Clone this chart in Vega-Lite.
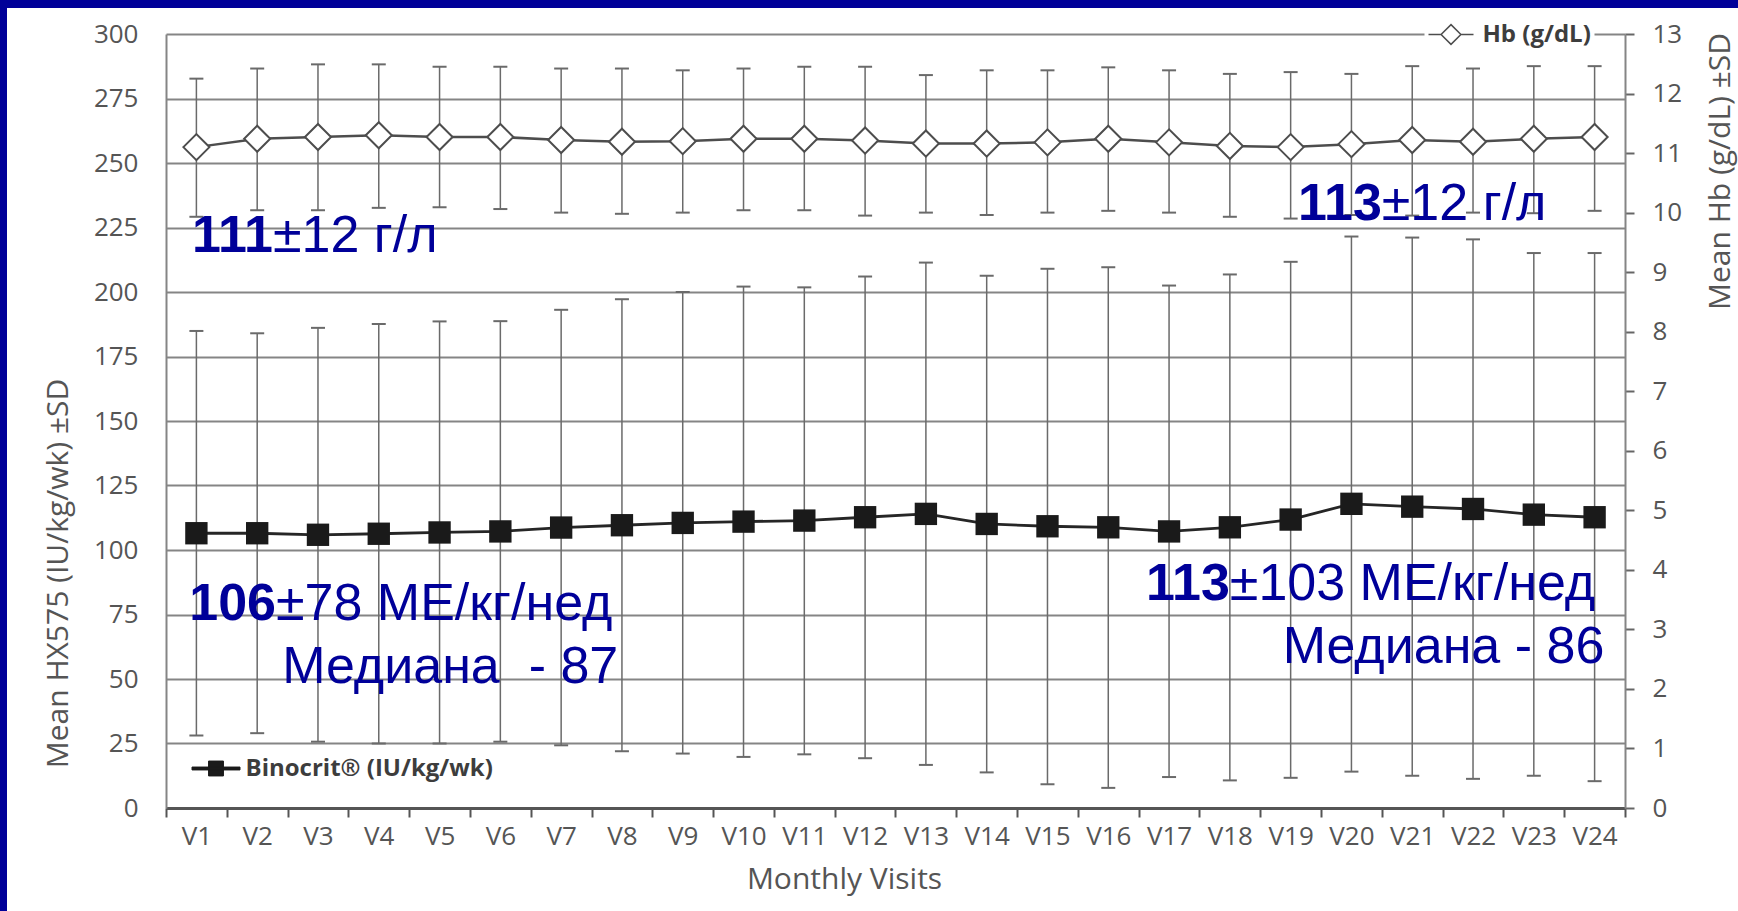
{
  "$schema": "https://vega.github.io/schema/vega-lite/v6.json",
  "width": 1731,
  "height": 903,
  "autosize": {"type": "none"},
  "padding": {"left": 7, "top": 8, "right": 0, "bottom": 0},
  "background": "#000099",
  "config": {
    "view": {"fill": "white", "stroke": null},
    "font": "Open Sans",
    "axis": {"labelFont": "Open Sans", "titleFont": "Open Sans", "labelColor": "#555555", "titleColor": "#555555", "labelFontSize": 26, "titleFontSize": 30, "titleFontWeight": "normal"}
  },
  "datasets": {
    "bino": [
      {"visit": "V1", "mean": 106.5, "lo": 28.1, "hi": 184.9, "series": "Binocrit® (IU/kg/wk)"},
      {"visit": "V2", "mean": 106.5, "lo": 29.0, "hi": 184.0, "series": "Binocrit® (IU/kg/wk)"},
      {"visit": "V3", "mean": 105.9, "lo": 25.7, "hi": 186.1, "series": "Binocrit® (IU/kg/wk)"},
      {"visit": "V4", "mean": 106.3, "lo": 25.0, "hi": 187.6, "series": "Binocrit® (IU/kg/wk)"},
      {"visit": "V5", "mean": 106.8, "lo": 25.0, "hi": 188.6, "series": "Binocrit® (IU/kg/wk)"},
      {"visit": "V6", "mean": 107.2, "lo": 25.7, "hi": 188.7, "series": "Binocrit® (IU/kg/wk)"},
      {"visit": "V7", "mean": 108.7, "lo": 24.3, "hi": 193.1, "series": "Binocrit® (IU/kg/wk)"},
      {"visit": "V8", "mean": 109.6, "lo": 22.0, "hi": 197.2, "series": "Binocrit® (IU/kg/wk)"},
      {"visit": "V9", "mean": 110.5, "lo": 21.1, "hi": 200.0, "series": "Binocrit® (IU/kg/wk)"},
      {"visit": "V10", "mean": 111.0, "lo": 19.8, "hi": 202.1, "series": "Binocrit® (IU/kg/wk)"},
      {"visit": "V11", "mean": 111.4, "lo": 20.8, "hi": 201.8, "series": "Binocrit® (IU/kg/wk)"},
      {"visit": "V12", "mean": 112.7, "lo": 19.3, "hi": 206.0, "series": "Binocrit® (IU/kg/wk)"},
      {"visit": "V13", "mean": 114.0, "lo": 16.7, "hi": 211.4, "series": "Binocrit® (IU/kg/wk)"},
      {"visit": "V14", "mean": 110.1, "lo": 13.8, "hi": 206.3, "series": "Binocrit® (IU/kg/wk)"},
      {"visit": "V15", "mean": 109.2, "lo": 9.2, "hi": 209.0, "series": "Binocrit® (IU/kg/wk)"},
      {"visit": "V16", "mean": 108.8, "lo": 7.8, "hi": 209.6, "series": "Binocrit® (IU/kg/wk)"},
      {"visit": "V17", "mean": 107.2, "lo": 12.0, "hi": 202.5, "series": "Binocrit® (IU/kg/wk)"},
      {"visit": "V18", "mean": 108.8, "lo": 10.7, "hi": 206.8, "series": "Binocrit® (IU/kg/wk)"},
      {"visit": "V19", "mean": 111.8, "lo": 11.7, "hi": 211.7, "series": "Binocrit® (IU/kg/wk)"},
      {"visit": "V20", "mean": 117.9, "lo": 14.1, "hi": 221.5, "series": "Binocrit® (IU/kg/wk)"},
      {"visit": "V21", "mean": 116.8, "lo": 12.5, "hi": 221.1, "series": "Binocrit® (IU/kg/wk)"},
      {"visit": "V22", "mean": 115.9, "lo": 11.3, "hi": 220.4, "series": "Binocrit® (IU/kg/wk)"},
      {"visit": "V23", "mean": 113.7, "lo": 12.5, "hi": 215.1, "series": "Binocrit® (IU/kg/wk)"},
      {"visit": "V24", "mean": 112.7, "lo": 10.4, "hi": 215.1, "series": "Binocrit® (IU/kg/wk)"}
    ],
    "hb": [
      {"visit": "V1", "mean": 11.10, "lo": 9.93, "hi": 12.25, "series": "Hb (g/dL)"},
      {"visit": "V2", "mean": 11.24, "lo": 10.04, "hi": 12.42, "series": "Hb (g/dL)"},
      {"visit": "V3", "mean": 11.27, "lo": 10.04, "hi": 12.49, "series": "Hb (g/dL)"},
      {"visit": "V4", "mean": 11.30, "lo": 10.08, "hi": 12.49, "series": "Hb (g/dL)"},
      {"visit": "V5", "mean": 11.27, "lo": 10.09, "hi": 12.45, "series": "Hb (g/dL)"},
      {"visit": "V6", "mean": 11.27, "lo": 10.06, "hi": 12.45, "series": "Hb (g/dL)"},
      {"visit": "V7", "mean": 11.22, "lo": 10.00, "hi": 12.42, "series": "Hb (g/dL)"},
      {"visit": "V8", "mean": 11.19, "lo": 9.98, "hi": 12.42, "series": "Hb (g/dL)"},
      {"visit": "V9", "mean": 11.20, "lo": 10.00, "hi": 12.39, "series": "Hb (g/dL)"},
      {"visit": "V10", "mean": 11.24, "lo": 10.04, "hi": 12.42, "series": "Hb (g/dL)"},
      {"visit": "V11", "mean": 11.24, "lo": 10.04, "hi": 12.45, "series": "Hb (g/dL)"},
      {"visit": "V12", "mean": 11.21, "lo": 9.95, "hi": 12.45, "series": "Hb (g/dL)"},
      {"visit": "V13", "mean": 11.16, "lo": 10.00, "hi": 12.31, "series": "Hb (g/dL)"},
      {"visit": "V14", "mean": 11.16, "lo": 9.96, "hi": 12.39, "series": "Hb (g/dL)"},
      {"visit": "V15", "mean": 11.18, "lo": 10.00, "hi": 12.39, "series": "Hb (g/dL)"},
      {"visit": "V16", "mean": 11.24, "lo": 10.03, "hi": 12.44, "series": "Hb (g/dL)"},
      {"visit": "V17", "mean": 11.18, "lo": 10.00, "hi": 12.39, "series": "Hb (g/dL)"},
      {"visit": "V18", "mean": 11.12, "lo": 9.93, "hi": 12.33, "series": "Hb (g/dL)"},
      {"visit": "V19", "mean": 11.10, "lo": 9.90, "hi": 12.36, "series": "Hb (g/dL)"},
      {"visit": "V20", "mean": 11.15, "lo": 9.96, "hi": 12.33, "series": "Hb (g/dL)"},
      {"visit": "V21", "mean": 11.22, "lo": 9.95, "hi": 12.46, "series": "Hb (g/dL)"},
      {"visit": "V22", "mean": 11.19, "lo": 10.00, "hi": 12.42, "series": "Hb (g/dL)"},
      {"visit": "V23", "mean": 11.24, "lo": 9.99, "hi": 12.46, "series": "Hb (g/dL)"},
      {"visit": "V24", "mean": 11.27, "lo": 10.03, "hi": 12.46, "series": "Hb (g/dL)"}
    ],
    "notesBold": [
      {"x": 1.76, "y": 215.5, "t": "111"},
      {"x": 20.0, "y": 227.9, "t": "113"},
      {"x": 1.81, "y": 72.9, "t": "106"},
      {"x": 17.5, "y": 80.6, "t": "113"}
    ],
    "notesLeft": [
      {"x": 1.76, "y": 215.5, "t": "±12 г/л"},
      {"x": 20.0, "y": 227.9, "t": "±12 г/л"},
      {"x": 1.81, "y": 72.9, "t": "±78 МЕ/кг/нед"},
      {"x": 17.5, "y": 80.6, "t": "±103 МЕ/кг/нед"}
    ],
    "notesRight": [
      {"x": 7.44, "y": 48.4, "t": "Медиана\u00a0 - 87"},
      {"x": 23.66, "y": 56.2, "t": "Медиана - 86"}
    ]
  },
  "layer": [
    {
      "data": {"name": "bino"},
      "encoding": {
        "x": {
          "field": "visit", "type": "ordinal", "sort": null,
          "scale": {"type": "band", "range": [159, 1618], "paddingInner": 0, "paddingOuter": 0},
          "axis": {
            "orient": "bottom", "offset": -103, "tickBand": "extent", "ticks": true, "tickSize": 9,
            "tickColor": "#555555", "tickWidth": 2, "domain": true, "domainColor": "#555555", "domainWidth": 3,
            "labelPadding": 6, "labelAngle": 0, "labelOverlap": false, "grid": false,
            "title": "Monthly Visits", "titleX": 837, "titleY": 80, "titleAlign": "center", "titleBaseline": "alphabetic"
          }
        },
        "y": {
          "field": "mean", "type": "quantitative",
          "scale": {"domain": [0, 300], "range": [800, 26], "nice": false, "zero": false},
          "axis": {
            "orient": "left", "offset": -159, "values": [0, 25, 50, 75, 100, 125, 150, 175, 200, 225, 250, 275, 300],
            "grid": true, "gridColor": "#858585", "gridWidth": 2, "ticks": false,
            "domain": true, "domainColor": "#858585", "domainWidth": 2, "labelPadding": 28,
            "title": "Mean HX575 (IU/kg/wk) ±SD", "titleAngle": -90, "titleX": -108, "titleY": 565,
            "titleAlign": "center", "titleBaseline": "middle"
          }
        }
      },
      "layer": [
        {
          "mark": {"type": "rule", "color": "#6a6a6a", "strokeWidth": 1.5},
          "encoding": {
            "y": {"field": "lo", "type": "quantitative"},
            "y2": {"field": "hi"}
          }
        },
        {
          "mark": {"type": "tick", "color": "#6a6a6a", "thickness": 2, "size": 14, "opacity": 1},
          "encoding": {"y": {"field": "lo", "type": "quantitative"}}
        },
        {
          "mark": {"type": "tick", "color": "#6a6a6a", "thickness": 2, "size": 14, "opacity": 1},
          "encoding": {"y": {"field": "hi", "type": "quantitative"}}
        },
        {
          "mark": {"type": "line", "color": "#262626", "strokeWidth": 2.8}
        },
        {
          "mark": {"type": "point", "shape": "square", "size": 500, "filled": true, "opacity": 1},
          "encoding": {
            "color": {
              "field": "series", "type": "nominal", "scale": {"range": ["#1a1a1a"]},
              "legend": {
                "title": null, "orient": "none", "legendX": 184.5, "legendY": 736, "padding": 0,
                "symbolType": "M-1,-0.06H1V0.06H-1ZM-0.31,-0.31H0.31V0.31H-0.31Z", "symbolSize": 2304,
                "symbolFillColor": "#1a1a1a", "symbolStrokeColor": "#1a1a1a", "symbolStrokeWidth": 1,
                "labelFont": "Open Sans", "labelFontSize": 24, "labelFontWeight": "bold", "labelColor": "#3d3d3d",
                "labelOffset": 5, "labelLimit": 500,
                "encode": {"symbols": {"update": {
                  "shape": {"value": "M-1,-0.06H1V0.06H-1ZM-0.31,-0.31H0.31V0.31H-0.31Z"},
                  "size": {"value": 2304},
                  "fill": {"value": "#1a1a1a"}, "opacity": {"value": 1}
                }}}
              }
            }
          }
        }
      ]
    },
    {
      "data": {"name": "hb"},
      "encoding": {
        "x": {
          "field": "visit", "type": "ordinal", "sort": null,
          "scale": {"type": "band", "range": [159, 1618], "paddingInner": 0, "paddingOuter": 0},
          "axis": null
        },
        "y": {
          "field": "mean", "type": "quantitative",
          "scale": {"domain": [0, 13], "range": [800, 26], "nice": false, "zero": false},
          "axis": {
            "orient": "right", "offset": -113, "values": [0, 1, 2, 3, 4, 5, 6, 7, 8, 9, 10, 11, 12, 13],
            "grid": false, "ticks": true, "tickSize": 9, "tickColor": "#666666", "tickWidth": 2,
            "domain": true, "domainColor": "#858585", "domainWidth": 2, "labelPadding": 18,
            "title": "Mean Hb (g/dL) ±SD", "titleAngle": -90, "titleX": 95, "titleY": 163,
            "titleAlign": "center", "titleBaseline": "middle"
          }
        }
      },
      "layer": [
        {
          "mark": {"type": "rule", "color": "#6a6a6a", "strokeWidth": 1.5},
          "encoding": {
            "y": {"field": "lo", "type": "quantitative"},
            "y2": {"field": "hi"}
          }
        },
        {
          "mark": {"type": "tick", "color": "#6a6a6a", "thickness": 2, "size": 14, "opacity": 1},
          "encoding": {"y": {"field": "lo", "type": "quantitative"}}
        },
        {
          "mark": {"type": "tick", "color": "#6a6a6a", "thickness": 2, "size": 14, "opacity": 1},
          "encoding": {"y": {"field": "hi", "type": "quantitative"}}
        },
        {
          "mark": {"type": "line", "color": "#4d4d4d", "strokeWidth": 2.5}
        },
        {
          "mark": {"type": "point", "shape": "diamond", "size": 680, "filled": false, "fill": "white", "strokeWidth": 2, "opacity": 1},
          "encoding": {
            "color": {
              "field": "series", "type": "nominal", "scale": {"range": ["#4d4d4d"]},
              "legend": {
                "title": null, "orient": "none", "legendX": 1417.5, "legendY": 0, "padding": 3, "fillColor": "white",
                "symbolType": "M-1,0H-0.44M0.44,0H1M0,-0.44L0.44,0L0,0.44L-0.44,0Z", "symbolSize": 2025,
                "labelFont": "Open Sans", "labelFontSize": 24, "labelFontWeight": "bold", "labelColor": "#3d3d3d",
                "labelOffset": 8, "labelLimit": 500, "labelExpr": "datum.label + '   '",
                "encode": {"symbols": {"update": {
                  "shape": {"value": "M-1,0H-0.44M0.44,0H1M0,-0.44L0.44,0L0,0.44L-0.44,0Z"},
                  "size": {"value": 2025},
                  "fill": {"value": "white"}, "stroke": {"value": "#4d4d4d"},
                  "strokeWidth": {"value": 2}, "opacity": {"value": 1}
                }}}
              }
            }
          }
        }
      ]
    },
    {
      "layer": [
        {
          "data": {"name": "notesBold"},
          "mark": {"type": "text", "font": "Liberation Sans", "fontSize": 52, "fontWeight": "bold", "color": "#000099", "align": "right", "baseline": "alphabetic"},
          "encoding": {
            "x": {"field": "x", "type": "quantitative", "scale": {"domain": [0, 24], "range": [159, 1618], "nice": false, "zero": false}, "axis": null},
            "y": {"field": "y", "type": "quantitative", "scale": {"domain": [0, 300], "range": [800, 26], "nice": false, "zero": false}, "axis": null},
            "text": {"field": "t"}
          }
        },
        {
          "data": {"name": "notesLeft"},
          "mark": {"type": "text", "font": "Liberation Sans", "fontSize": 52, "fontWeight": "normal", "color": "#000099", "align": "left", "baseline": "alphabetic"},
          "encoding": {
            "x": {"field": "x", "type": "quantitative", "axis": null},
            "y": {"field": "y", "type": "quantitative", "axis": null},
            "text": {"field": "t"}
          }
        },
        {
          "data": {"name": "notesRight"},
          "mark": {"type": "text", "font": "Liberation Sans", "fontSize": 52, "fontWeight": "normal", "color": "#000099", "align": "right", "baseline": "alphabetic"},
          "encoding": {
            "x": {"field": "x", "type": "quantitative", "axis": null},
            "y": {"field": "y", "type": "quantitative", "axis": null},
            "text": {"field": "t"}
          }
        }
      ]
    }
  ],
  "resolve": {
    "scale": {"x": "independent", "y": "independent", "color": "independent"},
    "legend": {"color": "independent"}
  }
}
